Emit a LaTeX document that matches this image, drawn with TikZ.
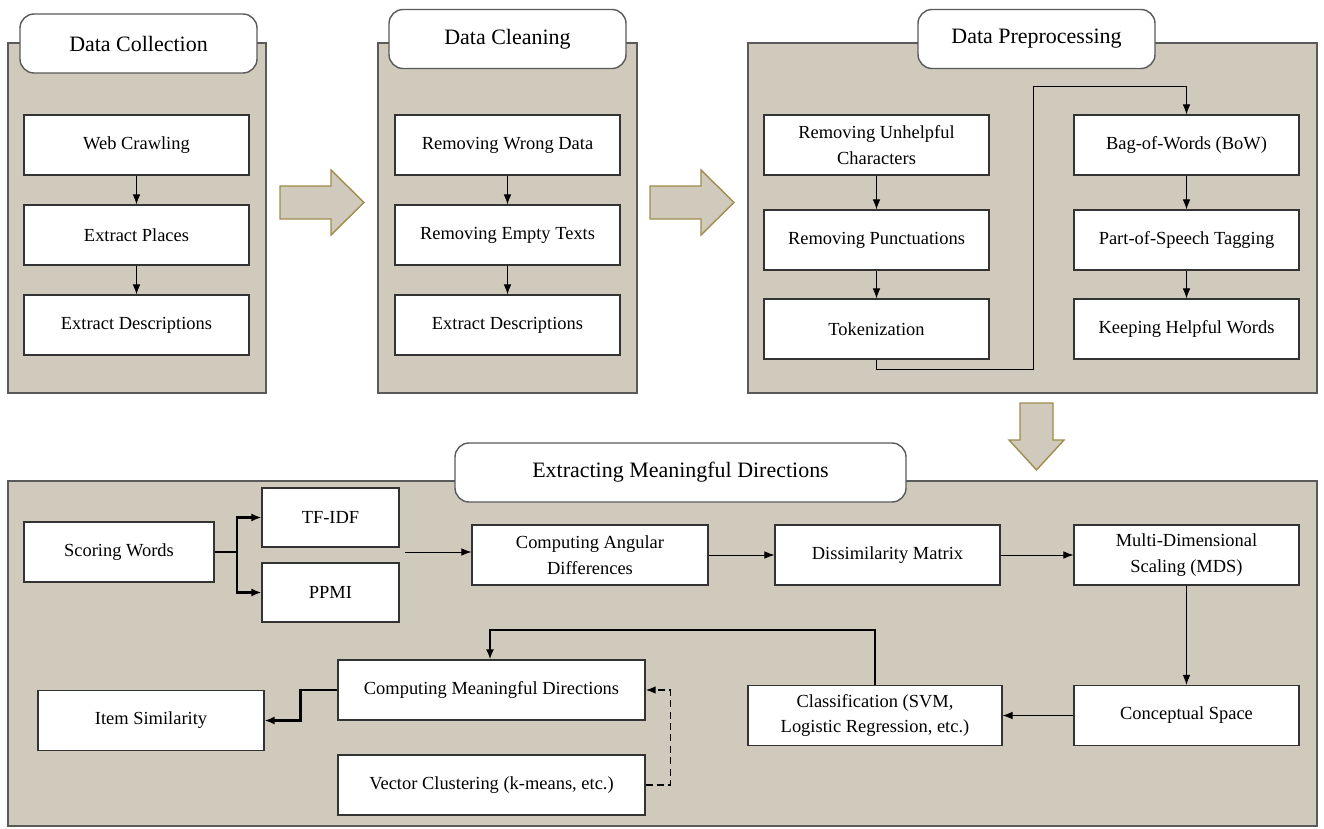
\documentclass[tikz,border=0pt]{standalone}
\usepackage{fontspec}
\setmainfont{Liberation Serif}
\usepackage{xcolor}
\usetikzlibrary{arrows.meta,positioning,calc}
\definecolor{panelfill}{RGB}{208,202,188}
\definecolor{panelline}{RGB}{90,90,90}
\definecolor{arrowline}{RGB}{160,140,80}
\tikzset{
  panel/.style = {draw = panelline, fill = panelfill, line width = .8pt},
  titlebox/.style = {draw = panelline, fill = white, rounded corners = 8pt, line width = .8pt,
    minimum height = 1.18cm, minimum width = 4.74cm, font = \fontsize{12.5}{14}\selectfont},
  stepbox/.style = {draw = black!80, fill = white, line width = .6pt, align = center,
    minimum height = 1.2cm, minimum width = 4.5cm, font = \fontsize{10.5}{14.5}\selectfont},
  thin arrow/.style = {-{Latex[length=2mm,width=1.5mm]}, line width = .5pt},
  thick arrow/.style = {-{Latex[length=2mm,width=1.6mm]}, line width = 1.3pt},
  big arrow/.style = {draw = arrowline, fill = panelfill, line width = .8pt}
}
\begin{document}
\begin{tikzpicture}
\useasboundingbox (0,0) rectangle (26.48,-16.58);
% Panels
\draw[panel] (.16,-.86) rectangle (5.32,-7.86);
\draw[panel] (7.56,-.86) rectangle (12.74,-7.86);
\draw[panel] (14.96,-.86) rectangle (26.34,-7.86);
\draw[panel] (.16,-9.62) rectangle (26.34,-16.52);
% Block arrows between panels
\draw[big arrow] (5.6,-3.72) -- (6.62,-3.72) -- (6.62,-3.4) -- (7.28,-4.05) -- (6.62,-4.7) -- (6.62,-4.38) -- (5.6,-4.38) -- cycle;
\draw[big arrow] (13,-3.72) -- (14.02,-3.72) -- (14.02,-3.4) -- (14.68,-4.05) -- (14.02,-4.7) -- (14.02,-4.38) -- (13,-4.38) -- cycle;
\draw[big arrow] (20.4,-8.06) -- (21.06,-8.06) -- (21.06,-8.8) -- (21.28,-8.8) -- (20.73,-9.4) -- (20.18,-8.8) -- (20.4,-8.8) -- cycle;
% Titles
\node[titlebox] (collect) at (2.77,-.87) {Data Collection};
\node[titlebox] (clean) at (10.15,-.78) {Data Cleaning};
\node[titlebox] (prep) at (20.73,-.78) {Data Preprocessing};
\node[titlebox, minimum width = 9.02cm] (extract) at (13.61,-9.45) {Extracting Meaningful Directions};
% Data collection
\node[stepbox] (crawl) at (2.73,-2.9) {Web Crawling};
\node[stepbox] (places) at (2.73,-4.7) {Extract Places};
\node[stepbox] (descr) at (2.73,-6.5) {Extract Descriptions};
\draw[thin arrow] (crawl) -- (places);
\draw[thin arrow] (places) -- (descr);
% Data cleaning
\node[stepbox] (wrong) at (10.15,-2.9) {Removing Wrong Data};
\node[stepbox] (empty) at (10.15,-4.7) {Removing Empty Texts};
\node[stepbox] (cdescr) at (10.15,-6.5) {Extract Descriptions};
\draw[thin arrow] (wrong) -- (empty);
\draw[thin arrow] (empty) -- (cdescr);
% Data preprocessing
\node[stepbox] (unhelp) at (17.53,-2.9) {Removing Unhelpful\\Characters};
\node[stepbox] (punct) at (17.53,-4.8) {Removing Punctuations};
\node[stepbox] (token) at (17.53,-6.58) {Tokenization};
\node[stepbox] (bow) at (23.73,-2.9) {Bag-of-Words (BoW)};
\node[stepbox] (pos) at (23.73,-4.8) {Part-of-Speech Tagging};
\node[stepbox] (keep) at (23.73,-6.58) {Keeping Helpful Words};
\draw[thin arrow] (unhelp) -- (punct);
\draw[thin arrow] (punct) -- (token);
\draw[thin arrow] (token.south) -- ++(0,-.2) -| (20.66,-1.72) -| (bow.north);
\draw[thin arrow] (bow) -- (pos);
\draw[thin arrow] (pos) -- (keep);
% Extracting meaningful directions
\node[stepbox, minimum width = 3.8cm] (score) at (2.38,-11.04) {Scoring Words};
\node[stepbox, minimum width = 2.74cm, minimum height = 1.18cm] (tfidf) at (6.61,-10.35) {TF-IDF};
\node[stepbox, minimum width = 2.74cm, minimum height = 1.18cm] (ppmi) at (6.61,-11.85) {PPMI};
\node[stepbox, minimum width = 4.72cm] (angular) at (11.8,-11.1) {Computing Angular\\Differences};
\node[stepbox] (dissim) at (17.75,-11.1) {Dissimilarity Matrix};
\node[stepbox] (mds) at (23.73,-11.1) {Multi-Dimensional\\Scaling (MDS)};
\node[stepbox] (concept) at (23.73,-14.31) {Conceptual Space};
\node[stepbox, minimum width = 5.08cm] (classif) at (17.5,-14.31) {Classification (SVM,\\Logistic Regression, etc.)};
\node[stepbox, minimum width = 6.14cm] (direct) at (9.83,-13.8) {Computing Meaningful Directions};
\node[stepbox, minimum width = 4.52cm] (item) at (3.02,-14.41) {Item Similarity};
\node[stepbox, minimum width = 6.14cm] (cluster) at (9.83,-15.7) {Vector Clustering (k-means, etc.)};
\coordinate (fork) at (4.74,-11.04);
\coordinate (merge) at (8.1,-11.04);
\draw[line width = 1.3pt] (score.east) -- (fork);
\draw[thick arrow] (fork) |- (tfidf.west);
\draw[thick arrow] (fork) |- (ppmi.west);
\draw[thin arrow] (merge) -- (merge -| angular.west);
\draw[thin arrow] (angular) -- (dissim);
\draw[thin arrow] (dissim) -- (mds);
\draw[thin arrow] (mds) -- (concept);
\draw[thin arrow] (concept) -- (classif);
\draw[thick arrow] (classif.north) |- (9.8,-12.6) -- (9.8,-12.6 |- direct.north);
\draw[thick arrow] (direct.west) -- ++(-.74,0) |- (item.east);
\draw[thin arrow, line width = .9pt, dash pattern = on 4pt off 2.5pt] (cluster.east) -- ++(.5,0) |- (direct.east);
\end{tikzpicture}
\end{document}
